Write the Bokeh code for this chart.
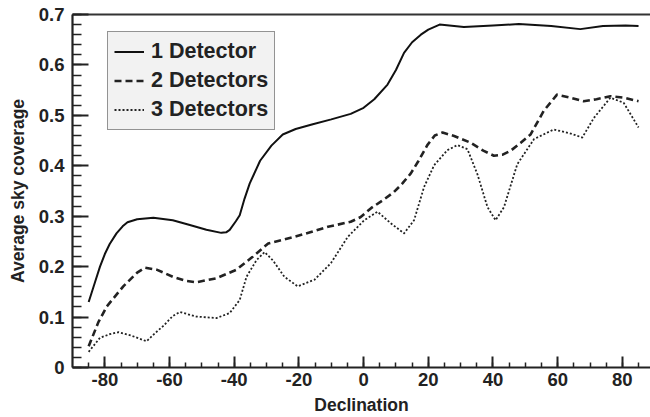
from bokeh.plotting import figure
from bokeh.models import Range1d, FixedTicker, LinearAxis, Legend, LegendItem
from bokeh.embed import file_html
from bokeh.resources import INLINE

# ---- data ----
dec1 = [-85, -83, -81.5, -80, -78.5, -76.4, -74.5, -73, -70, -65, -59, -54, -48.6, -44, -42.5, -41.4, -39.5, -38.3,
        -36.8, -35.2, -32, -28.5, -25, -21, -16, -10, -4, 0, 3.3, 7.4, 10, 12.5, 15, 17.7, 20, 23.5,
        31, 40, 48, 58, 67, 74, 81, 85]
cov1 = [0.13, 0.17, 0.2, 0.225, 0.245, 0.266, 0.28, 0.288, 0.294, 0.297, 0.292, 0.283, 0.273, 0.267, 0.268, 0.273, 0.29, 0.302,
        0.335, 0.365, 0.41, 0.44, 0.462, 0.473, 0.482, 0.492, 0.503, 0.515, 0.532, 0.561, 0.59, 0.624, 0.645, 0.66, 0.67, 0.68,
        0.675, 0.678, 0.681, 0.677, 0.671, 0.677, 0.678, 0.677]

dec2 = [-85, -82, -79.4, -74.3, -70, -67.6, -64, -59, -55, -51.7, -45.5, -39.3, -34.2, -29.5,
        -25, -21.4, -16, -11, -4, -1, 2.3, 6, 9.4, 12, 14.6, 17, 19.7, 22, 24.4, 28, 33, 37,
        40.3, 43, 45.5, 48.5, 51.6, 55.7, 59.8, 64, 68, 72, 76.3, 80.5, 85]
cov2 = [0.042, 0.09, 0.121, 0.161, 0.188, 0.198, 0.194, 0.18, 0.172, 0.169, 0.177, 0.194, 0.22, 0.246,
        0.253, 0.259, 0.269, 0.279, 0.289, 0.298, 0.316, 0.332, 0.348, 0.365, 0.385, 0.41, 0.441, 0.46, 0.466, 0.459, 0.446, 0.43,
        0.42, 0.422, 0.43, 0.445, 0.462, 0.509, 0.541, 0.535, 0.528, 0.532, 0.538, 0.535, 0.528]

dec3 = [-85, -81.5, -78.5, -75.8, -71.7, -67.1, -64.5, -62, -59, -56.8, -51.7, -45.5, -41.4, -38.3,
        -36.2, -33.1, -30.6, -28, -24.5, -20.4, -15.2, -10.1, -4.9, 0.2, 4.3, 8.4, 12.5, 15.6, 18.7,
        21.8, 25.9, 29, 32.1, 35.2, 38.3, 40.8, 43.4, 47.5, 52.7, 58.8, 64, 67.6, 71.2, 76.3, 80.4, 85]
cov3 = [0.031, 0.059, 0.066, 0.07, 0.063, 0.052, 0.068, 0.082, 0.102, 0.11, 0.101, 0.098, 0.108, 0.134,
        0.18, 0.213, 0.229, 0.212, 0.18, 0.161, 0.174, 0.207, 0.259, 0.292, 0.309, 0.286, 0.266, 0.292, 0.358,
        0.401, 0.431, 0.441, 0.433, 0.383, 0.318, 0.292, 0.318, 0.403, 0.453, 0.472, 0.464, 0.456, 0.495, 0.535, 0.525, 0.476]

series_names = ["1 Detector", "2 Detectors", "3 Detectors"]
x_ticks = [-80, -60, -40, -20, 0, 20, 40, 60, 80]
x_tick_labels = ["-80", "-60", "-40", "-20", "0", "20", "40", "60", "80"]
y_ticks = [0, 0.1, 0.2, 0.3, 0.4, 0.5, 0.6, 0.7]
y_tick_labels = ["0", "0.1", "0.2", "0.3", "0.4", "0.5", "0.6", "0.7"]

FONT = "Liberation Sans"
TXT = "#222222"

p = figure(width=650, height=417, output_backend="svg", toolbar_location=None,
           x_range=Range1d(-90, 88.7), y_range=Range1d(0, 0.7),
           min_border_left=72, min_border_right=0, min_border_top=14, min_border_bottom=49)
p.outline_line_color = None
p.grid.grid_line_color = None
p.background_fill_color = "white"
p.border_fill_color = "white"

r1 = p.line(dec1, cov1, line_color="#111111", line_width=2, line_join="round")
r2 = p.line(dec2, cov2, line_color="#222222", line_width=2.6, line_dash="7 4", line_join="round")
r3 = p.line(dec3, cov3, line_color="#222222", line_width=1.8, line_dash="2 2", line_join="round")

# axes
xa = p.xaxis[0]
xa.ticker = FixedTicker(ticks=x_ticks, minor_ticks=[v for v in range(-85, 90, 5)])
xa.major_label_overrides = {t: l for t, l in zip(x_ticks, x_tick_labels)}
xa.axis_label = "Declination"
ya = p.yaxis[0]
ya.ticker = FixedTicker(ticks=y_ticks, minor_ticks=[i / 100 for i in range(0, 71, 2)])
ya.major_label_overrides = {t: l for t, l in zip(y_ticks, y_tick_labels)}
ya.axis_label = "Average sky coverage"

for ax in (xa, ya):
    ax.axis_line_width = 2.2
    ax.axis_line_color = TXT
    ax.major_tick_line_color = TXT
    ax.minor_tick_line_color = TXT
    ax.major_tick_line_width = 2
    ax.minor_tick_line_width = 1.5
    ax.major_tick_out = 0
    ax.minor_tick_out = 0
    ax.major_label_text_font = FONT
    ax.major_label_text_font_style = "bold"
    ax.major_label_text_font_size = "18.5px"
    ax.major_label_text_color = TXT
    ax.axis_label_text_font = FONT
    ax.axis_label_text_font_style = "bold"
    ax.axis_label_text_font_size = "17.5px"
    ax.axis_label_text_color = TXT

xa.major_tick_in = 11
xa.minor_tick_in = 5
xa.major_label_standoff = 5
xa.axis_label_standoff = 6
ya.major_tick_in = 16
ya.minor_tick_in = 9
ya.major_label_standoff = 8
ya.axis_label_standoff = 8

top = LinearAxis(ticker=FixedTicker(ticks=[]), axis_line_width=2.2, axis_line_color="#333333",
                 major_tick_line_color=None, minor_tick_line_color=None,
                 major_label_text_font_size="0px")
p.add_layout(top, "above")

legend = Legend(items=[LegendItem(label=series_names[0], renderers=[r1]),
                       LegendItem(label=series_names[1], renderers=[r2]),
                       LegendItem(label=series_names[2], renderers=[r3])],
                location=(35, 237), orientation="vertical")
legend.label_text_font = FONT
legend.label_text_font_style = "bold"
legend.label_text_font_size = "21.5px"
legend.label_text_color = TXT
legend.glyph_width = 30
legend.glyph_height = 27
legend.label_height = 27
legend.spacing = 2
legend.padding = 6
legend.label_standoff = 7
legend.border_line_color = "#333333"
legend.border_line_width = 1.5
legend.background_fill_color = "#f2f2f2"
legend.background_fill_alpha = 1
legend.margin = 0
p.add_layout(legend, "center")

open("out.html", "w").write(file_html(p, INLINE))
